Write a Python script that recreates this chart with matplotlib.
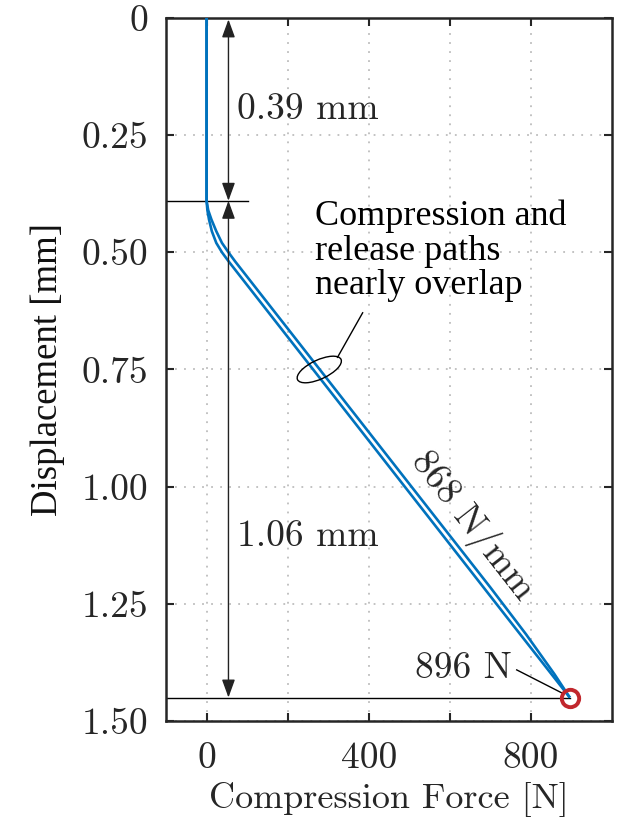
import matplotlib
matplotlib.use("Agg")
import matplotlib.pyplot as plt
from matplotlib.patches import Ellipse
from matplotlib.transforms import ScaledTranslation

plt.rcParams['font.family'] = 'serif'
plt.rcParams['font.serif'] = ['cmr10']
plt.rcParams['mathtext.fontset'] = 'cm'
plt.rcParams['axes.formatter.use_mathtext'] = True

# Data
comp_force = [0, 0, 0, 2, 6, 13, 24, 38, 55, 760, 896]
comp_disp = [0, 0.30, 0.39, 0.41, 0.43, 0.455, 0.48, 0.50, 0.52, 1.30, 1.45]
rel_force = [0, 0, 0, 4, 12, 24, 38, 54, 71, 700, 788, 858, 896]
rel_disp = [0, 0.30, 0.39, 0.41, 0.43, 0.455, 0.48, 0.50, 0.52, 1.215, 1.315, 1.40, 1.45]
peak_force = 896
peak_disp = 1.45
knee_disp = 0.39
xticks = [0, 200, 400, 600, 800]
xticklabels = ['0', '', '400', '', '800']
yticks = [0, 0.25, 0.5, 0.75, 1.0, 1.25, 1.5]
yticklabels = ['0', '0.25', '0.50', '0.75', '1.00', '1.25', '1.50']

blue = '#0072BD'
dark = '#262626'
fs = 27
times = 'Liberation Serif'

fig = plt.figure(figsize=(6.23, 8.19), dpi=100)
ax = fig.add_axes([0.2665, 0.1197, 0.9823 - 0.2665, 0.978 - 0.1197])

ax.plot(comp_force, comp_disp, color=blue, lw=1.9, solid_capstyle='butt', zorder=3)
ax.plot(rel_force, rel_disp, color=blue, lw=1.9, solid_capstyle='butt', zorder=3)

ax.set_xlim(-100, 1000)
ax.set_ylim(1.5, 0)
ax.set_xticks(xticks)
ax.set_xticklabels(xticklabels)
ax.set_yticks(yticks)
ax.set_yticklabels(yticklabels)
ax.tick_params(direction='in', length=6, width=1.5, top=True, right=True,
               labelsize=fs, colors=dark)
ax.tick_params(axis='y', pad=13)
ax.tick_params(axis='x', pad=15)
for s in ax.spines.values():
    s.set_linewidth(1.8)
    s.set_color(dark)
ax.grid(True, linestyle=(0, (1, 4)), color='#bdbdbd', lw=1.3)
ax.set_axisbelow(True)

ax.set_xlabel('Compression Force [N]', fontsize=26, color=dark, labelpad=5)
ax.set_ylabel('Displacement [mm]', fontsize=26.5, family=times, color='#111111',
              labelpad=12)

# horizontal reference lines
ax.plot([-100, 103], [knee_disp, knee_disp], color='k', lw=1.0, zorder=2)
ax.plot([-100, peak_force], [peak_disp, peak_disp], color='k', lw=1.0, zorder=2)

# dimension arrows
arrow_x = 54
ap = dict(arrowstyle='<|-|>,head_length=0.55,head_width=0.2', color='#222222',
          lw=1.0, mutation_scale=20, shrinkA=0, shrinkB=0)
ax.annotate('', xy=(arrow_x, 0.003), xytext=(arrow_x, knee_disp), arrowprops=ap)
ax.annotate('', xy=(arrow_x, knee_disp), xytext=(arrow_x, peak_disp), arrowprops=ap)

ax.text(76, 0.196, '0.39 mm', fontsize=fs, color=dark, ha='left', va='center')
ax.text(76, 1.107, '1.06 mm', fontsize=fs, color=dark, ha='left', va='center')

# peak marker
ax.plot([peak_force], [peak_disp], 'o', ms=12.5, mfc='none', mec='#C1272D',
        mew=2.8, zorder=4)
ax.text(634, 1.387, '896 N', fontsize=fs, color=dark, ha='center', va='center')
ax.plot([765, 876], [1.391, 1.440], color='k', lw=1.0)

# slope label
ax.text(656, 1.083, '868 N/mm', fontsize=fs, color=dark, ha='center', va='center',
        rotation=-52, rotation_mode='anchor')

# ellipse annotation
ell = Ellipse((0, 0), width=0.48, height=0.19, angle=25, fill=False,
              edgecolor='k', lw=1.0, zorder=5,
              transform=fig.dpi_scale_trans + ScaledTranslation(278, 0.750, ax.transData))
ax.add_patch(ell)
ax.plot([323, 385], [0.724, 0.629], color='k', lw=1.0)
ax.text(267, 0.497, 'Compression and\nrelease paths\nnearly overlap', fontsize=26,
        family=times, color='k', ha='left', va='center', linespacing=1.07)

fig.savefig('out.png', dpi=100)
